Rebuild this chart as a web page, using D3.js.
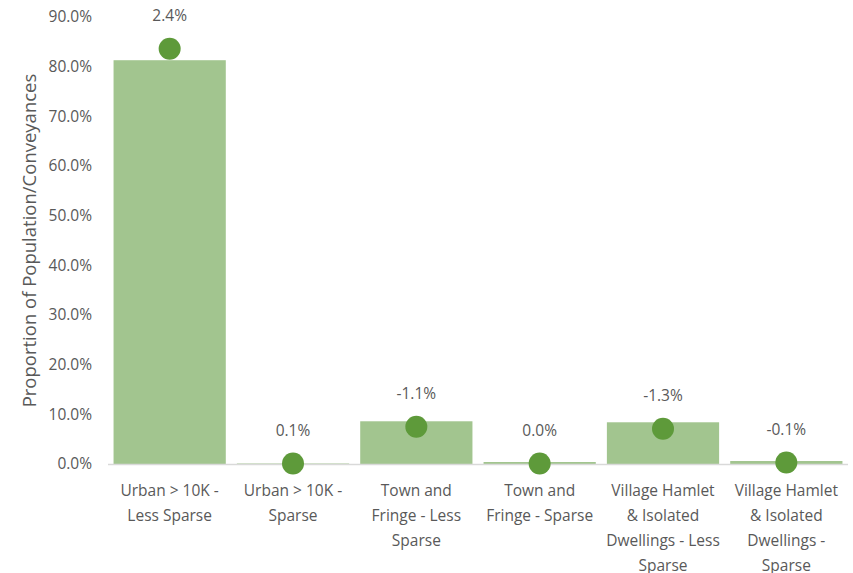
<!DOCTYPE html>
<html>
<head>
<meta charset="utf-8">
<script src="https://cdn.jsdelivr.net/npm/d3@7"></script>
<style>
  body { margin: 0; background: #fff; }
  text { font-family: 'Open Sans', sans-serif; fill: #595959; }
</style>
</head>
<body>
<div id="chart"></div>
<script>
const categories = [
  ['Urban > 10K -', 'Less Sparse'],
  ['Urban > 10K -', 'Sparse'],
  ['Town and', 'Fringe - Less', 'Sparse'],
  ['Town and', 'Fringe - Sparse'],
  ['Village Hamlet', '& Isolated', 'Dwellings - Less', 'Sparse'],
  ['Village Hamlet', '& Isolated', 'Dwellings -', 'Sparse']
]
const population = [81.3, 0.1, 8.6, 0.4, 8.4, 0.6]
const conveyances = [83.6, 0.1, 7.5, 0.1, 7.1, 0.3]
const changeLabels = ['2.4%', '0.1%', '-1.1%', '0.0%', '-1.3%', '-0.1%']
const yTicks = [0, 10, 20, 30, 40, 50, 60, 70, 80, 90]

const width = 853
const height = 573
const margin = { top: 17, right: 5, bottom: 109, left: 108 }

const svg = d3.select('#chart').append('svg')
  .attr('width', width).attr('height', height)

const x = d3.scaleBand()
  .domain(d3.range(categories.length))
  .range([margin.left, width - margin.right])
  .paddingInner(0.09).paddingOuter(0.045)

const y = d3.scaleLinear()
  .domain([0, 90])
  .range([height - margin.bottom, margin.top])

// y tick labels
svg.append('g').selectAll('text')
  .data(yTicks)
  .enter().append('text')
    .attr('x', margin.left - 16)
    .attr('y', (d) => y(d))
    .attr('dy', '0.35em')
    .attr('text-anchor', 'end')
    .style('font-size', '15.5px')
    .text((d) => d.toFixed(1) + '%')

// bars
svg.append('g').selectAll('rect')
  .data(population)
  .enter().append('rect')
    .attr('x', (d, i) => x(i))
    .attr('width', x.bandwidth())
    .attr('y', (d) => y(d))
    .attr('height', (d) => y(0) - y(d))
    .attr('fill', '#a2c58f')

// baseline
svg.append('line')
  .attr('x1', margin.left).attr('x2', width - margin.right)
  .attr('y1', y(0) + 0.5).attr('y2', y(0) + 0.5)
  .attr('stroke', '#d9d9d9').attr('stroke-width', 1.5)

// dots
svg.append('g').selectAll('circle')
  .data(conveyances)
  .enter().append('circle')
    .attr('cx', (d, i) => x(i) + x.bandwidth() / 2)
    .attr('cy', (d) => y(d))
    .attr('r', 11)
    .attr('fill', '#5e9a3a')

// change labels
svg.append('g').selectAll('text')
  .data(conveyances)
  .enter().append('text')
    .attr('x', (d, i) => x(i) + x.bandwidth() / 2)
    .attr('y', (d) => y(d) - 33)
    .attr('dy', '0.35em')
    .attr('text-anchor', 'middle')
    .style('font-size', '15.5px')
    .text((d, i) => changeLabels[i])

// category labels
let cat = svg.append('g').selectAll('text')
  .data(categories)
  .enter().append('text')
    .attr('text-anchor', 'middle')
    .style('font-size', '15.5px')

cat.selectAll('tspan')
  .data((d, i) => d.map((line) => ({ line: line, i: i })))
  .enter().append('tspan')
    .attr('x', (d) => x(d.i) + x.bandwidth() / 2)
    .attr('y', (d, j) => y(0) + 27 + j * 25)
    .attr('dy', '0.35em')
    .text((d) => d.line)

// y axis title
svg.append('text')
  .attr('transform', 'translate(30,' + ((margin.top + y(0)) / 2) + ') rotate(-90)')
  .attr('text-anchor', 'middle')
  .attr('dy', '0.35em')
  .style('font-size', '18.5px')
  .text('Proportion of Population/Conveyances')
</script>
</body>
</html>
